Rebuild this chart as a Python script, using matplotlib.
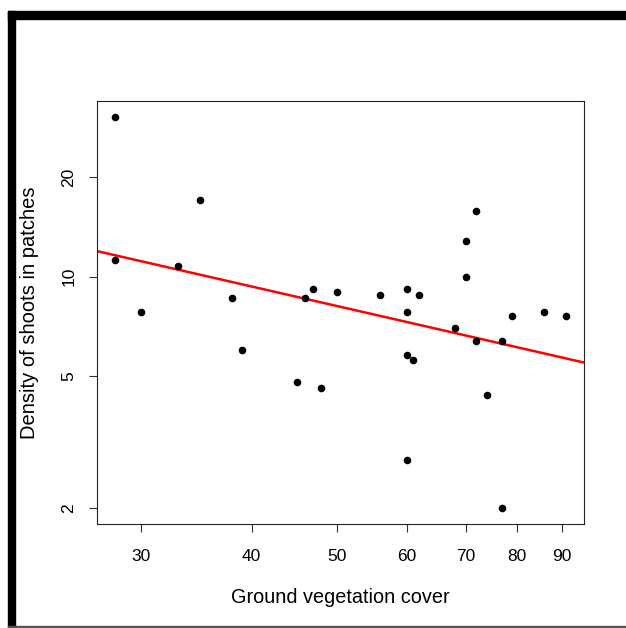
import numpy as np
import matplotlib
matplotlib.use("Agg")
import matplotlib.pyplot as plt
from matplotlib.patches import Rectangle
from matplotlib.ticker import FixedLocator, NullLocator, FixedFormatter

plt.rcParams["font.family"] = ["Liberation Sans", "DejaVu Sans"]

# ground vegetation cover (%) and shoot density
cover = [28, 28, 30, 33, 35, 38, 39, 45, 46, 47, 48, 50, 56, 60, 60,
         60, 60, 61, 62, 68, 70, 70, 72, 72, 74, 77, 77, 79, 86, 91]
density = [30.4, 11.2, 7.8, 10.8, 17.0, 8.6, 6.0, 4.8, 8.6, 9.2, 4.6, 9.0, 8.8, 9.2, 7.8,
           5.8, 2.8, 5.6, 8.8, 7.0, 12.8, 10.0, 15.8, 6.4, 4.4, 6.4, 2.0, 7.6, 7.8, 7.6]

x_ticks = [30, 40, 50, 60, 70, 80, 90]
y_ticks = [2, 5, 10, 20]

x = np.array(cover, dtype=float)
y = np.array(density, dtype=float)

# log-log regression line
slope, intercept = np.polyfit(np.log10(x), np.log10(y), 1)


def r_limits(v):
    # R pads the data range by 4% on each side (in log space here)
    lo, hi = np.log10(v.min()), np.log10(v.max())
    pad = 0.04 * (hi - lo)
    return 10 ** (lo - pad), 10 ** (hi + pad)


fig = plt.figure(figsize=(6.26, 6.28), dpi=100)
ax = fig.add_axes([0.155, 0.166, 0.778, 0.673])

ax.scatter(x, y, s=30, color="black", zorder=3, linewidths=0)

xlim = r_limits(x)
ax.set_xscale("log")
ax.set_yscale("log")
ax.set_xlim(xlim)
ax.set_ylim(r_limits(y))

xl = np.array(xlim)
ax.plot(xl, 10 ** (intercept + slope * np.log10(xl)), color="red", lw=1.8, zorder=2)

ax.xaxis.set_major_locator(FixedLocator(x_ticks))
ax.xaxis.set_major_formatter(FixedFormatter([str(t) for t in x_ticks]))
ax.xaxis.set_minor_locator(NullLocator())
ax.yaxis.set_major_locator(FixedLocator(y_ticks))
ax.yaxis.set_major_formatter(FixedFormatter([str(t) for t in y_ticks]))
ax.yaxis.set_minor_locator(NullLocator())

ax.tick_params(axis="x", length=6, width=0.8, color="#333333", pad=12, labelsize=12.5)
ax.tick_params(axis="y", length=6, width=0.8, color="#333333", pad=9, labelsize=12.5)
for lab in ax.get_yticklabels():
    lab.set_rotation(90)
    lab.set_va("center")

for sp in ax.spines.values():
    sp.set_linewidth(0.8)
    sp.set_color("#222222")

ax.set_xlabel("Ground vegetation cover", fontsize=14.3)
ax.set_ylabel("Density of shoots in patches", fontsize=14.5)
ax.xaxis.set_label_coords(0.5, -0.153)
ax.yaxis.set_label_coords(-0.12, 0.5)

# frame around the image: thick black left/top, thin grey bottom
fig.patches.append(Rectangle((8 / 626, 0), 7 / 626, 1 - 11 / 628,
                             transform=fig.transFigure, color="black", zorder=5))
fig.patches.append(Rectangle((8 / 626, 1 - 19 / 628), 1, 8 / 628,
                             transform=fig.transFigure, color="black", zorder=5))
fig.patches.append(Rectangle((8 / 626, 0), 1, 2 / 628,
                             transform=fig.transFigure, color="#555555", zorder=5))

fig.savefig("out.png", dpi=100)
